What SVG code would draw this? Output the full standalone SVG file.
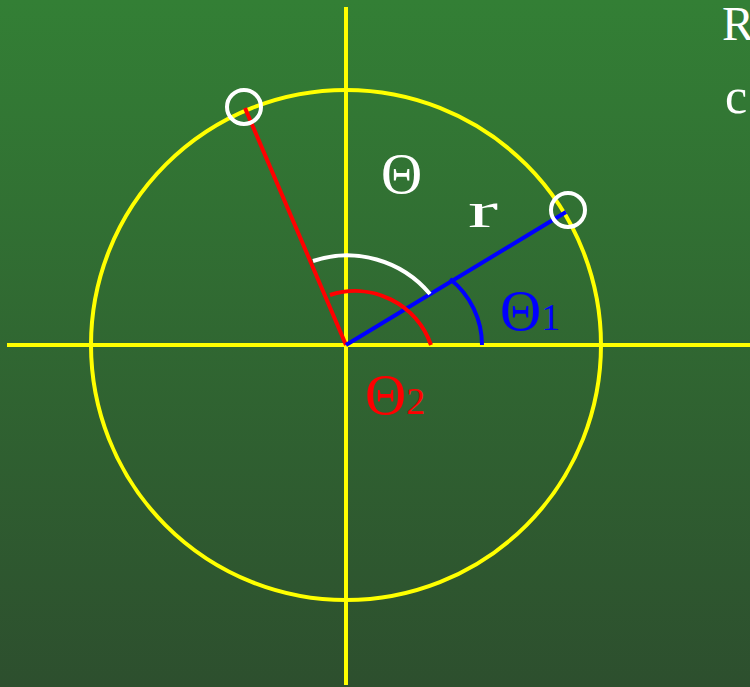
<svg xmlns="http://www.w3.org/2000/svg" width="750" height="687" viewBox="0 0 750 687">
<defs>
<linearGradient id="bg" x1="0" y1="0" x2="0" y2="1">
<stop offset="0" stop-color="#337f35"/>
<stop offset="1" stop-color="#2d4f2e"/>
</linearGradient>
<style>
.ax{stroke:#ffff00;stroke-width:4;fill:none}
.pt{stroke:#ffffff;stroke-width:4;fill:none}
.serif{font-family:"Liberation Serif","Times New Roman",serif}
.mono{font-family:"Liberation Serif","Times New Roman",serif;fill:#ffffff}
</style>
</defs>
<rect width="750" height="687" fill="url(#bg)"/>
<g id="axes">
<line class="ax" x1="7" y1="345" x2="750" y2="345"/>
<line class="ax" x1="346" y1="7" x2="346" y2="685"/>
<circle id="circle" class="ax" cx="346" cy="345" r="255"/>
</g>
<g id="connectors">
<line x1="346" y1="345" x2="245" y2="108" stroke="#ff0000" stroke-width="4"/>
<line x1="346" y1="345" x2="566" y2="212" stroke="#0000ff" stroke-width="4"/>
<path d="M313 261 A108 108 0 0 1 430 294" stroke="#ffffff" stroke-width="4" fill="none"/>
<path d="M330 295 A80.5 80.5 0 0 1 431 345" stroke="#ff0000" stroke-width="4" fill="none"/>
<path d="M450 279 A84 84 0 0 1 482 345" stroke="#0000ff" stroke-width="4" fill="none"/>
</g>
<g id="p2"><circle class="pt" cx="244" cy="107" r="17"/></g>
<g id="p1"><circle class="pt" cx="568" cy="210" r="17"/></g>
<g id="labels">
<text class="serif" x="381" y="193" font-size="57" fill="#ffffff">Θ</text>
<text class="mono" x="468" y="227" font-size="50" textLength="30" lengthAdjust="spacingAndGlyphs">r</text>
<text class="serif" x="500" y="330" font-size="57" fill="#0000ff">Θ<tspan font-size="38">1</tspan></text>
<text class="serif" x="365" y="414" font-size="57" fill="#ff0000">Θ<tspan font-size="38">2</tspan></text>
<text class="mono" x="722" y="40" font-size="48">R</text>
<text class="mono" x="725" y="113" font-size="50">c</text>
</g>
</svg>
